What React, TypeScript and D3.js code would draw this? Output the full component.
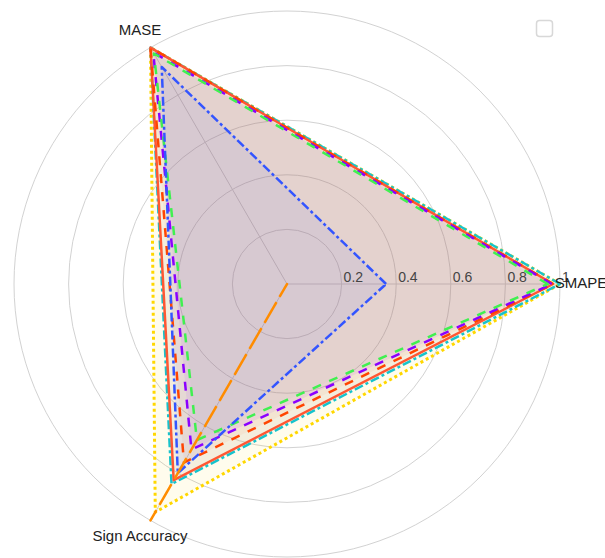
import React from 'react';
import * as d3 from 'd3';

// Radar axes (counter-clockwise from east)
const axisLabels = ['SMAPE', 'MASE', 'Sign Accuracy'];
const radialTicks = [0.2, 0.4, 0.6, 0.8, 1];

// Normalised scores per model, ordered as axisLabels
const modelGold = [1.0, 1.0, 0.965];
const modelCyan = [1.0, 1.0, 0.846];
const modelRed = [0.975, 1.0, 0.83];
const modelOrangeRed = [0.975, 1.0, 0.755];
const modelPurple = [0.97, 0.98, 0.7];
const modelGreen = [0.955, 0.975, 0.66];
const modelBlue = [0.363, 0.918, 0.8];
const modelOrange = [0.0, 0.0, 1.0];

const seriesValues = [
  modelGold,
  modelCyan,
  modelRed,
  modelOrangeRed,
  modelPurple,
  modelGreen,
  modelBlue,
  modelOrange,
];

// Trace styling, same order as seriesValues
const seriesStyles = [
  { color: '#FFD700', dash: '3,3', width: 3, fill: 0.07 },
  { color: '#17C3CC', dash: '9,3,3,3', width: 2.5, fill: 0.05 },
  { color: '#FF5733', dash: '', width: 2.5, fill: 0.07 },
  { color: '#FF4500', dash: '9,9', width: 2.5, fill: 0.05 },
  { color: '#8B00FF', dash: '9,9', width: 2.5, fill: 0.08 },
  { color: '#40F050', dash: '9,9', width: 2.5, fill: 0.04 },
  { color: '#3355FF', dash: '9,3,3,3', width: 2.5, fill: 0.07 },
  { color: '#FF8C00', dash: '15,6,3,6', width: 2.5, fill: 0.07 },
];

const W = 605;
const H = 558;
const cx = 287;
const cy = 284;
const R = 273;

// d3.lineRadial angles: clockwise from north
const axisAngles = [Math.PI / 2, -Math.PI / 6, (-5 * Math.PI) / 6];

export default function App() {
  const r = d3.scaleLinear().domain([0, 1]).range([0, R]);

  const radarLine = d3
    .lineRadial<number>()
    .angle((_d, i) => axisAngles[i])
    .radius((d) => r(d))
    .curve(d3.curveLinearClosed);

  const pt = (a: number, rad: number) => [rad * Math.sin(a), -rad * Math.cos(a)];

  const labelPos = [
    { x: cx + 294, y: 288 },
    { x: cx - 147, y: 35 },
    { x: cx - 147, y: 541 },
  ];

  return (
    <svg
      width={W}
      height={H}
      style={{ position: 'absolute', left: 0, top: 0, background: '#fff' }}
      fontFamily="'Liberation Sans', Arial, sans-serif"
    >
      <g transform={`translate(${cx},${cy})`}>
        {/* radial grid circles */}
        {radialTicks.map((t) => (
          <circle key={t} r={r(t)} fill="none" stroke="#d2d2d2" strokeWidth={1} />
        ))}
        {/* angular spokes */}
        {axisAngles.map((a, i) => {
          const [x, y] = pt(a, R);
          return <line key={i} x1={0} y1={0} x2={x} y2={y} stroke="#cfcfcf" strokeWidth={1} />;
        })}
        {/* fills */}
        {seriesValues.map((vals, i) => (
          <path
            key={`f${i}`}
            d={radarLine(vals) || ''}
            fill={seriesStyles[i].color}
            fillOpacity={seriesStyles[i].fill}
            stroke="none"
          />
        ))}
        {/* outlines */}
        {seriesValues.map((vals, i) => (
          <path
            key={`l${i}`}
            d={radarLine(vals) || ''}
            fill="none"
            stroke={seriesStyles[i].color}
            strokeWidth={seriesStyles[i].width}
            strokeDasharray={seriesStyles[i].dash}
            strokeLinejoin="round"
          />
        ))}
        {/* radial tick labels */}
        {radialTicks.map((t) => (
          <text key={`t${t}`} x={r(t) + 2} y={-2} fontSize={14} fill="#444">
            {d3.format('~g')(t)}
          </text>
        ))}
      </g>
      {axisLabels.map((lab, i) => (
        <text
          key={lab}
          x={labelPos[i].x}
          y={labelPos[i].y}
          textAnchor="middle"
          fontSize={15}
          fill="#222"
        >
          {lab}
        </text>
      ))}
      {/* legend box */}
      <rect x={536.5} y={20.5} width={16} height={16} rx={3} fill="#fff" stroke="#d8d8d8" strokeWidth={1.5} />
    </svg>
  );
}
